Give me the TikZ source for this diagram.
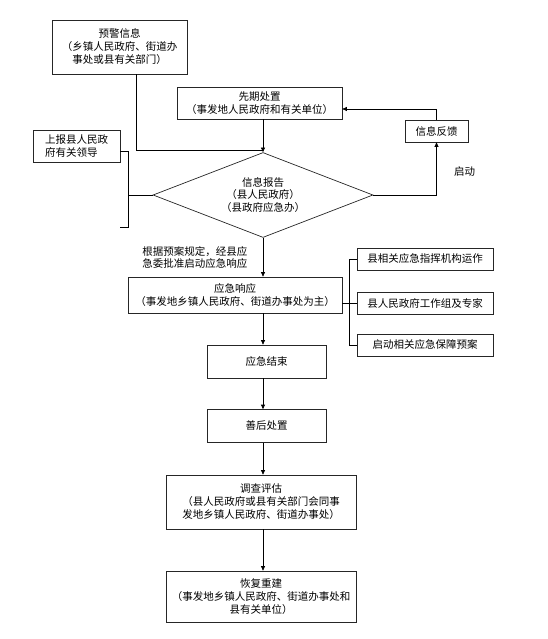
\documentclass[tikz,border=0pt]{standalone}
\usepackage{fontspec}
\newfontfamily\cjk{Noto Sans CJK SC}
\usetikzlibrary{arrows.meta}
\usetikzlibrary{shapes.geometric}
\usetikzlibrary{math}

\begin{document}
\begin{tikzpicture}[x=1pt,y=-1pt,
    font=\cjk\fontsize{10.5}{13}\selectfont,
    >={Triangle[length=4.5pt,width=4pt]},
    line width=0.7pt,
    kuang/.style={draw=black!85,rectangle,align=center,inner sep=0pt}]
    \tikzmath{  \xa = 119.5 ;
                \xb = 259.5 ;
                \xm = 263 ;
                \xc = 235 ;
                \xd = 266.5 ;
                \xe = 261 ;
                \xf = 425 ;
                \xg = 436.5 ;
                \xh = 76.5 ;
                \ya = 47 ;
                \yb = 103 ;
                \yc = 131 ;
                \yd = 146 ;
                \ye = 195 ;
                \yf = 295 ;
                \yg = 259 ;
                \yh = 303 ;
                \yi = 345 ;
                \yj = 361.5 ;
                \yk = 426 ;
                \yl = 502 ;
                \ym = 596.5 ;
                }
    \useasboundingbox (0,0) rectangle (548,639);
    \node[kuang,minimum width=135pt,minimum height=54pt] (yujing) at (\xa,\ya) {预警信息\\（乡镇人民政府、街道办\\事处或县有关部门）};
    \node[kuang,minimum width=165pt,minimum height=32pt] (xianqi) at (\xb,\yb) {先期处置\\（事发地人民政府和有关单位）};
    \node[kuang,minimum width=63pt,minimum height=22pt] (fankui) at (\xg,\yc) {信息反馈};
    \node[kuang,align=left,minimum width=87pt,minimum height=32pt] (shangbao) at (\xh,\yd) {上报县人民政\\府有关领导};
    \node[diamond,draw=black!85,aspect=2.6,inner sep=0pt,align=center,minimum width=220pt,minimum height=85pt,font=\cjk\fontsize{10.5}{12.5}\selectfont] (baogao) at (\xm,\ye) {信息报告\\（县人民政府）\\（县政府应急办）};
    \node[kuang,minimum width=214pt,minimum height=36pt] (xiangying) at (\xc,\yf) {应急响应\\（事发地乡镇人民政府、街道办事处为主）};
    \node[kuang,minimum width=136pt,minimum height=22pt] (zhihui) at (\xf,\yg) {县相关应急指挥机构运作};
    \node[kuang,minimum width=136pt,minimum height=22pt] (gongzuo) at (\xf,\yh) {县人民政府工作组及专家};
    \node[kuang,minimum width=136pt,minimum height=22pt] (baozhang) at (\xf,\yi) {启动相关应急保障预案};
    \node[kuang,minimum width=119pt,minimum height=33pt] (jieshu) at (\xd,\yj) {应急结束};
    \node[kuang,minimum width=119pt,minimum height=33pt] (shanhou) at (\xd,\yk) {善后处置};
    \node[kuang,minimum width=190pt,minimum height=54pt] (diaocha) at (\xe,\yl) {调查评估\\（县人民政府或县有关部门会同事\\发地乡镇人民政府、街道办事处）};
    \node[kuang,minimum width=190pt,minimum height=51pt] (huifu) at (\xe,\ym) {恢复重建\\（事发地乡镇人民政府、街道办事处和\\县有关单位）};
    \coordinate (kuotop) at (120,151);
    \coordinate (kuobot) at (120,227);

    \draw ([xshift=16.5pt]yujing.south) |- ([yshift=2pt]baogao.north);
    \draw[->] (baogao.north |- xianqi.south) -- (baogao.north);
    \draw[->] (fankui.north) |- ([yshift=-6pt]xianqi.east);
    \draw[->] (baogao.east) -| node[pos=0.72,right=14pt] (qidong) {启动} (fankui.south);
    \draw (kuotop) -- ++(8,0) coordinate (kuo) -- ++(0,76) -- (kuobot);
    \draw (baogao.west) -- (baogao.west -| kuo);
    \draw[->] (baogao.south) -- node[midway,left=12pt,align=left,font=\cjk\fontsize{10.5}{12}\selectfont] (yiju) {根据预案规定，经县应\\急委批准启动应急响应} (baogao.south |- xiangying.north);
    \draw (gongzuo.west) -- (gongzuo.west -| xiangying.east);
    \draw (zhihui.west) -- ++(-7,0) |- (baozhang.west);
    \draw[->] (xiangying.south -| baogao.south) -- (jieshu.north -| baogao.south);
    \draw[->] (jieshu.south -| baogao.south) -- (shanhou.north -| baogao.south);
    \draw[->] (shanhou.south -| baogao.south) -- (diaocha.north -| baogao.south);
    \draw[->] (diaocha.south -| baogao.south) -- (huifu.north -| baogao.south);
\end{tikzpicture}
\end{document}
